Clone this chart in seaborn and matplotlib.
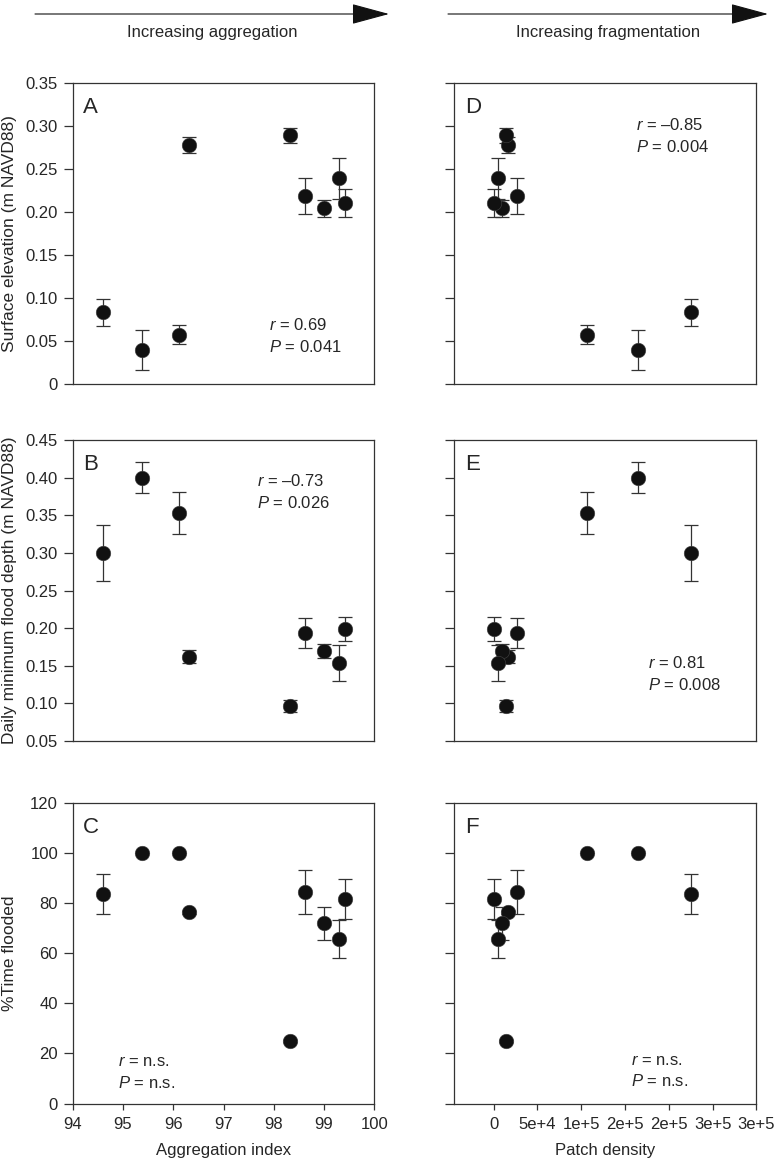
import matplotlib
matplotlib.use("Agg")
import matplotlib.pyplot as plt
from matplotlib.patches import FancyArrowPatch
import seaborn as sns
import pandas as pd

# one value per site, same order in every array
agg_index = [94.61, 95.37, 96.11, 96.32, 98.32, 98.62, 99.00, 99.29, 99.42]
patch_density = [225000, 165200, 106300, 16400, 13700, 26300, 9600, 4500, 700]
elevation = [0.083, 0.039, 0.057, 0.278, 0.289, 0.218, 0.204, 0.239, 0.210]
elevation_se = [0.016, 0.023, 0.011, 0.0095, 0.0085, 0.021, 0.0097, 0.024, 0.016]
flood_depth = [0.300, 0.400, 0.353, 0.162, 0.097, 0.193, 0.169, 0.154, 0.199]
flood_depth_se = [0.037, 0.021, 0.0275, 0.009, 0.008, 0.020, 0.0093, 0.024, 0.016]
time_flooded = [83.6, 100.0, 100.0, 76.3, 25.0, 84.4, 71.9, 65.8, 81.6]
time_flooded_se = [7.9, 0.0, 0.0, 0.5, 0.5, 8.7, 6.5, 7.6, 8.0]

agg_ticks = [94, 95, 96, 97, 98, 99, 100]
density_ticks = [0, 50000, 100000, 150000, 200000, 250000, 300000]
density_tick_labels = ["0", "5e+4", "1e+5", "2e+5", "2e+5", "3e+5", "3e+5"]
elev_ticks = [0, 0.05, 0.10, 0.15, 0.20, 0.25, 0.30, 0.35]
elev_tick_labels = ["0", "0.05", "0.10", "0.15", "0.20", "0.25", "0.30", "0.35"]
depth_ticks = [0.05, 0.10, 0.15, 0.20, 0.25, 0.30, 0.35, 0.40, 0.45]
depth_tick_labels = ["0.05", "0.10", "0.15", "0.20", "0.25", "0.30", "0.35", "0.40", "0.45"]
time_ticks = [0, 20, 40, 60, 80, 100, 120]

stats_agg = [("0.69", "0.041"), ("\u20130.73", "0.026"), ("n.s.", "n.s.")]
stats_density = [("\u20130.85", "0.004"), ("0.81", "0.008"), ("n.s.", "n.s.")]

df = pd.DataFrame({
    "agg": agg_index, "density": patch_density,
    "elev": elevation, "elev_se": elevation_se,
    "depth": flood_depth, "depth_se": flood_depth_se,
    "time": time_flooded, "time_se": time_flooded_se,
})

sns.set_style("ticks")
plt.rcParams["font.family"] = ["Liberation Sans", "DejaVu Sans"]
plt.rcParams["mathtext.fontset"] = "custom"
plt.rcParams["mathtext.it"] = "Liberation Sans:italic"
plt.rcParams["mathtext.rm"] = "Liberation Sans"

fig = plt.figure(figsize=(7.76, 11.6), dpi=100)

W, H = 776, 1160
left_x = (72.7, 374.3)
right_x = (454.4, 756.4)
rows_y = [(83, 383.5), (440, 741), (803, 1103.5)]

def rect(xs, ys):
    return [xs[0] / W, 1 - ys[1] / H, (xs[1] - xs[0]) / W, (ys[1] - ys[0]) / H]

rows = [
    ("elev", "elev_se", (0, 0.35), elev_ticks, elev_tick_labels, "Surface elevation (m NAVD88)"),
    ("depth", "depth_se", (0.05, 0.45), depth_ticks, depth_tick_labels, "Daily minimum flood depth (m NAVD88)"),
    ("time", "time_se", (0, 120), time_ticks, [str(t) for t in time_ticks], "%Time flooded"),
]
letters = [["A", "B", "C"], ["D", "E", "F"]]
stat_pos = [
    [(0.65, 0.158), (0.61, 0.826), (0.15, 0.103)],
    [(0.60, 0.825), (0.64, 0.224), (0.585, 0.108)],
]

for r, (col, se, ylim, yticks, ylabels, ytitle) in enumerate(rows):
    for c, (xcol, xs) in enumerate([("agg", left_x), ("density", right_x)]):
        ax = fig.add_axes(rect(xs, rows_y[r]))
        ax.errorbar(df[xcol], df[col], yerr=df[se], fmt="none", ecolor="#333333",
                    elinewidth=0.9, capsize=5, capthick=0.9, zorder=2)
        sns.scatterplot(data=df, x=xcol, y=col, ax=ax, color="#111111", s=110,
                        edgecolor="#444444", linewidth=0.4, zorder=3)
        ax.set_ylim(*ylim)
        ax.set_yticks(yticks)
        if c == 0:
            ax.set_yticklabels(ylabels)
            ax.set_xlim(94, 100)
            ax.set_xticks(agg_ticks)
        else:
            ax.set_yticklabels([])
            ax.set_xlim(-44750, 300000)
            ax.set_xticks(density_ticks)
        if r == 2:
            if c == 0:
                ax.set_xticklabels([str(t) for t in agg_ticks])
                ax.set_xlabel("Aggregation index", fontsize=12, labelpad=8)
            else:
                ax.set_xticklabels(density_tick_labels)
                ax.set_xlabel("Patch density", fontsize=12, labelpad=8)
        else:
            ax.set_xticks([])
            ax.set_xlabel("")
        ax.set_ylabel("")
        ax.tick_params(axis="y", direction="out", length=6.5, width=0.9, pad=4,
                       labelsize=12, color="#333333")
        ax.tick_params(axis="x", direction="out", length=4.5, width=0.9, pad=5,
                       labelsize=12, color="#333333")
        for s in ax.spines.values():
            s.set_visible(True)
            s.set_linewidth(0.9)
            s.set_color("#333333")
        ax.text(0.035, 0.955, letters[c][r], transform=ax.transAxes, fontsize=16,
                va="top", ha="left")
        rv, pv = (stats_agg if c == 0 else stats_density)[r]
        sx, sy = stat_pos[c][r]
        ax.text(sx, sy, "$r$ = " + rv + "\n$P$ = " + pv, transform=ax.transAxes,
                fontsize=12, va="center", ha="left", linespacing=1.45)
    yc = 1 - (rows_y[r][0] + rows_y[r][1]) / 2 / H
    fig.text(10 / W, yc, ytitle, rotation=90, va="center", ha="center", fontsize=12.5)

# direction arrows above the two columns
for x0, x1, label in [(35, 389, "Increasing aggregation"), (448, 768, "Increasing fragmentation")]:
    fig.add_artist(FancyArrowPatch(
        (x0 / W, 1 - 14 / H), (x1 / W, 1 - 14 / H), transform=fig.transFigure,
        arrowstyle="-|>,head_length=2.4,head_width=0.65", mutation_scale=10,
        color="#111111", lw=0.8, shrinkA=0, shrinkB=0))
    fig.text((x0 + x1) / 2 / W, 1 - 32 / H, label, ha="center", va="center", fontsize=12)

fig.savefig("out.png", dpi=100)
